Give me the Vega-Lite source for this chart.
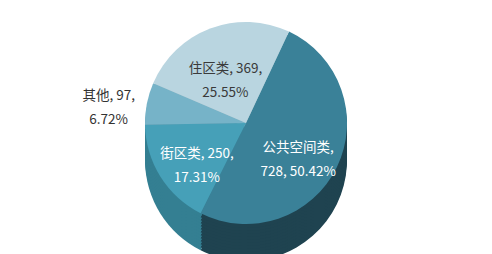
{
  "$schema": "https://vega.github.io/schema/vega-lite/v6.json",
  "width": 492,
  "height": 254,
  "padding": 0,
  "autosize": {"type": "fit", "contains": "padding"},
  "background": "white",
  "config": {"view": {"stroke": null}, "text": {"font": "Noto Sans CJK SC"}},
  "data": {
    "values": [
      {"cat": "公共空间类", "value": 728, "rank": 1, "label": "公共空间类,\n728, 50.42%"},
      {"cat": "街区类", "value": 250, "rank": 2, "label": "街区类, 250,\n17.31%"},
      {"cat": "其他", "value": 97, "rank": 3, "label": "其他, 97,\n6.72%"},
      {"cat": "住区类", "value": 369, "rank": 4, "label": "住区类, 369,\n25.55%"}
    ]
  },
  "encoding": {
    "theta": {"field": "value", "type": "quantitative", "stack": true, "scale": {"range": [0.44, 6.7232]}},
    "order": {"field": "rank", "type": "quantitative"}
  },
  "layer": [
    {"mark": {"type": "arc", "outerRadius": 101, "yOffset": 18}, "encoding": {"color": {"field": "cat", "type": "nominal", "legend": null, "scale": {"domain": ["公共空间类", "街区类", "其他", "住区类"], "range": ["#1f4350", "#347f92", "#5a93a6", "#8fb1bd"]}}}},
    {"mark": {"type": "arc", "outerRadius": 101, "yOffset": 15}, "encoding": {"color": {"field": "cat", "type": "nominal", "legend": null, "scale": {"domain": ["公共空间类", "街区类", "其他", "住区类"], "range": ["#1f4350", "#347f92", "#5a93a6", "#8fb1bd"]}}}},
    {"mark": {"type": "arc", "outerRadius": 101, "yOffset": 12}, "encoding": {"color": {"field": "cat", "type": "nominal", "legend": null, "scale": {"domain": ["公共空间类", "街区类", "其他", "住区类"], "range": ["#1f4350", "#347f92", "#5a93a6", "#8fb1bd"]}}}},
    {"mark": {"type": "arc", "outerRadius": 101, "yOffset": 9}, "encoding": {"color": {"field": "cat", "type": "nominal", "legend": null, "scale": {"domain": ["公共空间类", "街区类", "其他", "住区类"], "range": ["#1f4350", "#347f92", "#5a93a6", "#8fb1bd"]}}}},
    {"mark": {"type": "arc", "outerRadius": 101, "yOffset": 6}, "encoding": {"color": {"field": "cat", "type": "nominal", "legend": null, "scale": {"domain": ["公共空间类", "街区类", "其他", "住区类"], "range": ["#1f4350", "#347f92", "#5a93a6", "#8fb1bd"]}}}},
    {"mark": {"type": "arc", "outerRadius": 101, "yOffset": 3}, "encoding": {"color": {"field": "cat", "type": "nominal", "legend": null, "scale": {"domain": ["公共空间类", "街区类", "其他", "住区类"], "range": ["#1f4350", "#347f92", "#5a93a6", "#8fb1bd"]}}}},
    {"mark": {"type": "arc", "outerRadius": 101, "yOffset": 0}, "encoding": {"color": {"field": "cat", "type": "nominal", "legend": null, "scale": {"domain": ["公共空间类", "街区类", "其他", "住区类"], "range": ["#1f4350", "#347f92", "#5a93a6", "#8fb1bd"]}}}},
    {"mark": {"type": "arc", "outerRadius": 101, "yOffset": -3}, "encoding": {"color": {"field": "cat", "type": "nominal", "legend": null, "scale": {"domain": ["公共空间类", "街区类", "其他", "住区类"], "range": ["#1f4350", "#347f92", "#5a93a6", "#8fb1bd"]}}}},
    {"mark": {"type": "arc", "outerRadius": 101, "yOffset": -6}, "encoding": {"color": {"field": "cat", "type": "nominal", "legend": null, "scale": {"domain": ["公共空间类", "街区类", "其他", "住区类"], "range": ["#1f4350", "#347f92", "#5a93a6", "#8fb1bd"]}}}},
    {"mark": {"type": "arc", "outerRadius": 101, "yOffset": -9}, "encoding": {"color": {"field": "cat", "type": "nominal", "legend": null, "scale": {"domain": ["公共空间类", "街区类", "其他", "住区类"], "range": ["#1f4350", "#347f92", "#5a93a6", "#8fb1bd"]}}}},
    {"mark": {"type": "arc", "outerRadius": 101, "yOffset": -12}, "encoding": {"color": {"field": "cat", "type": "nominal", "legend": null, "scale": {"domain": ["公共空间类", "街区类", "其他", "住区类"], "range": ["#1f4350", "#347f92", "#5a93a6", "#8fb1bd"]}}}},
    {"mark": {"type": "arc", "outerRadius": 101, "yOffset": -15}, "encoding": {"color": {"field": "cat", "type": "nominal", "legend": null, "scale": {"domain": ["公共空间类", "街区类", "其他", "住区类"], "range": ["#1f4350", "#347f92", "#5a93a6", "#8fb1bd"]}}}},
    {"mark": {"type": "arc", "outerRadius": 101, "yOffset": -19}, "encoding": {"color": {"field": "cat", "type": "nominal", "legend": null, "scale": {"domain": ["公共空间类", "街区类", "其他", "住区类"], "range": ["#3a8198", "#46a0b8", "#76b3c8", "#b9d5e0"]}}}},
    {"mark": {"type": "text", "radius": 58, "yOffset": -19, "fontSize": 13.5, "lineBreak": "\n", "lineHeight": 24}, "encoding": {"text": {"condition": {"test": "datum.cat === '其他'", "value": ""}, "field": "label"}, "color": {"field": "cat", "type": "nominal", "legend": null, "scale": {"domain": ["公共空间类", "街区类", "其他", "住区类"], "range": ["#ffffff", "#ffffff", "#333333", "#3a3a3a"]}}}},
    {"mark": {"type": "text", "radius": 140, "yOffset": -19, "fontSize": 13.5, "lineBreak": "\n", "lineHeight": 24, "color": "#333333"}, "encoding": {"text": {"condition": {"test": "datum.cat !== '其他'", "value": ""}, "field": "label"}}}
  ],
  "resolve": {"scale": {"color": "independent"}}
}
